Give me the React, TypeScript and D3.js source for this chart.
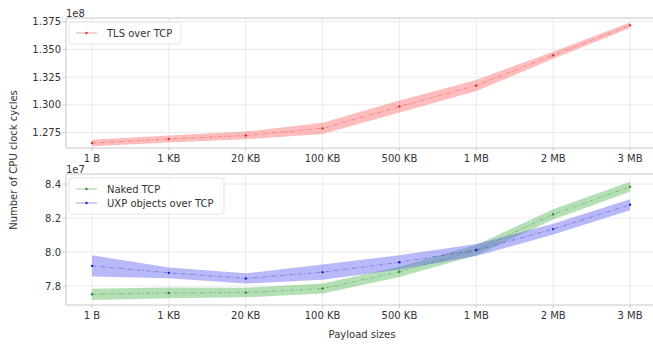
import React from "react";
import * as d3 from "d3";

const categories = ["1 B", "1 KB", "20 KB", "100 KB", "500 KB", "1 MB", "2 MB", "3 MB"];
const tlsMean = [1.2656, 1.2692, 1.2724, 1.2788, 1.2985, 1.3175, 1.3447, 1.3718];
const tlsErr = [0.003, 0.0032, 0.0035, 0.005, 0.0055, 0.005, 0.0032, 0.0025];
const nakedMean = [7.752, 7.76, 7.762, 7.786, 7.884, 8.012, 8.222, 8.384];
const nakedErr = [0.033, 0.032, 0.028, 0.03, 0.03, 0.03, 0.03, 0.03];
const uxpMean = [7.919, 7.878, 7.845, 7.882, 7.94, 8.012, 8.135, 8.278];
const uxpErr = [0.063, 0.032, 0.03, 0.045, 0.042, 0.035, 0.032, 0.032];
const topTicks = [1.275, 1.3, 1.325, 1.35, 1.375];
const botTicks = [7.8, 8.0, 8.2, 8.4];

const W = 653, H = 346;
const left = 66, right = 657;
const font = "DejaVu Sans, sans-serif";
const frameColor = "#c8c8c8";
const gridColor = "#e6e6e6";
const textColor = "#333";
const fs = 10;

const x = d3.scalePoint<string>().domain(categories).range([92, 630]);

function Panel({ top, bottom, yDomain, ticks, fmt, exp, series, legend }: any) {
  const y = d3.scaleLinear().domain(yDomain).range([bottom, top]);
  return (
    <g>
      {categories.map((c) => (
        <line key={c} x1={x(c)} x2={x(c)} y1={top} y2={bottom} stroke={gridColor} strokeWidth={0.8} />
      ))}
      {ticks.map((t: number) => (
        <line key={t} x1={left} x2={right} y1={y(t)} y2={y(t)} stroke={gridColor} strokeWidth={0.8} />
      ))}
      {series.map((s: any, i: number) => {
        const area = d3
          .area<number>()
          .x((_, j) => x(categories[j])!)
          .y0((d, j) => y(d - s.err[j]))
          .y1((d, j) => y(d + s.err[j]))
          .curve(d3.curveLinear);
        const line = d3
          .line<number>()
          .x((_, j) => x(categories[j])!)
          .y((d) => y(d));
        return (
          <g key={i}>
            <path d={area(s.mean)!} fill={s.fill} fillOpacity={s.op} stroke="none" />
            <path d={line(s.mean)!} fill="none" stroke={s.color} strokeWidth={0.7} strokeDasharray="4 2 1 2" opacity={0.55} />
            {s.mean.map((d: number, j: number) => (
              <circle key={j} cx={x(categories[j])} cy={y(d)} r={1.2} fill={s.color} />
            ))}
          </g>
        );
      })}
      <rect x={left} y={top} width={right - left} height={bottom - top} fill="none" stroke={frameColor} strokeWidth={1} />
      {ticks.map((t: number) => (
        <g key={"yt" + t}>
          <line x1={left - 3} x2={left} y1={y(t)} y2={y(t)} stroke={frameColor} />
          <text x={left - 5} y={y(t)} dy="0.35em" textAnchor="end" fontSize={fs} fill={textColor} fontFamily={font}>
            {fmt(t)}
          </text>
        </g>
      ))}
      {categories.map((c) => (
        <g key={"xt" + c}>
          <line x1={x(c)} x2={x(c)} y1={bottom} y2={bottom + 3} stroke={frameColor} />
          <text x={x(c)} y={bottom + 14} textAnchor="middle" fontSize={fs} fill={textColor} fontFamily={font}>
            {c}
          </text>
        </g>
      ))}
      <text x={left} y={top - 1} fontSize={fs} fill={textColor} fontFamily={font}>
        {exp}
      </text>
      <rect x={left + 3} y={top + 4} width={legend.w} height={legend.items.length * 14 + 8} rx={3} fill="white" fillOpacity={0.85} stroke="#ddd" strokeWidth={0.8} />
      {legend.items.map((it: any, i: number) => {
        const ly = top + 15 + i * 14;
        return (
          <g key={it.label}>
            <line x1={left + 10} x2={left + 31} y1={ly} y2={ly} stroke={it.color} strokeWidth={0.7} opacity={0.6} />
            <circle cx={left + 20.5} cy={ly} r={1.2} fill={it.color} />
            <text x={left + 41} y={ly} dy="0.35em" fontSize={fs} fill={textColor} fontFamily={font}>
              {it.label}
            </text>
          </g>
        );
      })}
    </g>
  );
}

export default function App() {
  return (
    <svg width={W} height={H} style={{ position: "absolute", left: 0, top: 0, background: "white" }}>
      <Panel
        top={18}
        bottom={148}
        yDomain={[1.2611, 1.3783]}
        ticks={topTicks}
        fmt={(t: number) => t.toFixed(3)}
        exp="1e8"
        series={[{ mean: tlsMean, err: tlsErr, color: "#e03030", fill: "#ff6a6a", op: 0.45 }]}
        legend={{ w: 112, items: [{ label: "TLS over TCP", color: "#e03030" }] }}
      />
      <Panel
        top={174}
        bottom={305}
        yDomain={[7.689, 8.459]}
        ticks={botTicks}
        fmt={(t: number) => t.toFixed(1)}
        exp="1e7"
        series={[
          { mean: nakedMean, err: nakedErr, color: "#2a8a2a", fill: "#5cb85c", op: 0.45 },
          { mean: uxpMean, err: uxpErr, color: "#2020c0", fill: "#5050f0", op: 0.4 },
        ]}
        legend={{
          w: 155,
          items: [
            { label: "Naked TCP", color: "#2a8a2a" },
            { label: "UXP objects over TCP", color: "#2020c0" },
          ],
        }}
      />
      <text x={362} y={338} textAnchor="middle" fontSize={fs} fill={textColor} fontFamily={font}>
        Payload sizes
      </text>
      <text transform="translate(17,160) rotate(-90)" textAnchor="middle" fontSize={fs} fill={textColor} fontFamily={font}>
        Number of CPU clock cycles
      </text>
    </svg>
  );
}
